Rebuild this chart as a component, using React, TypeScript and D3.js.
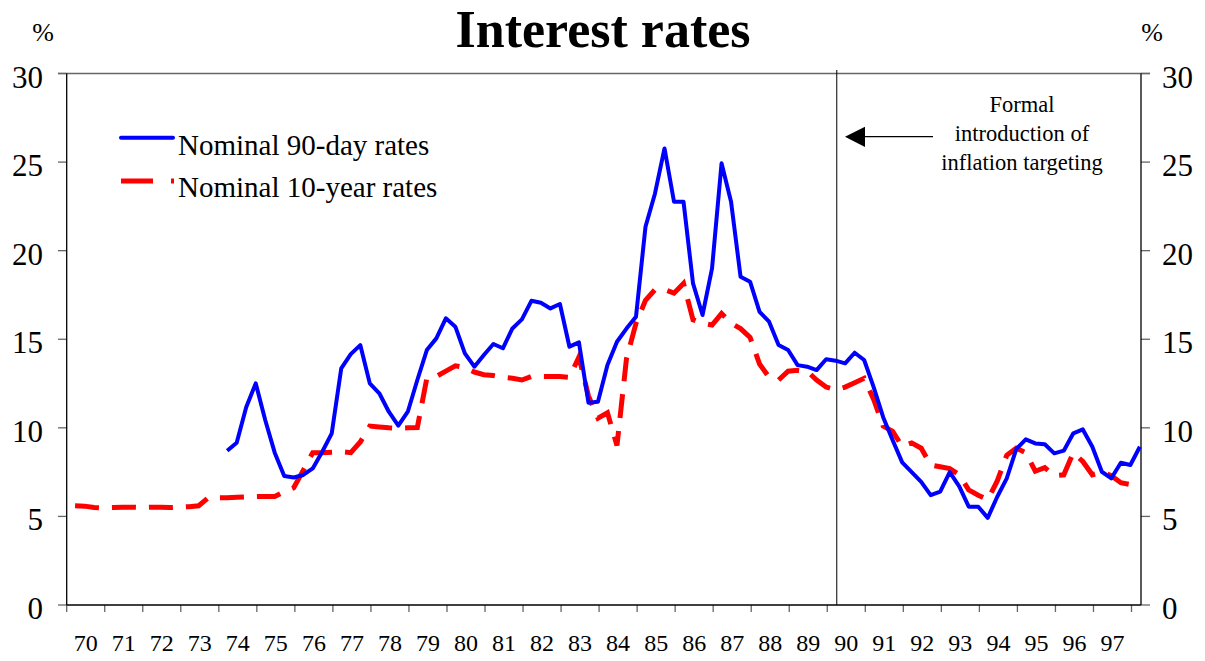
import React from 'react';
import * as d3 from 'd3';

// year labels on the category axis
const YEARS = ['70', '71', '72', '73', '74', '75', '76', '77', '78', '79', '80', '81', '82', '83',
  '84', '85', '86', '87', '88', '89', '90', '91', '92', '93', '94', '95', '96', '97'];

const Y_TICKS = [0, 5, 10, 15, 20, 25, 30];

// quarterly, 1970 Q1 .. 1998 Q1
const TEN_YEAR = [
  5.6, 5.58, 5.5, 5.48, 5.5, 5.52, 5.52, 5.5, 5.52, 5.52, 5.5, 5.52, 5.55, 5.6,
  6.05, 6.05, 6.06, 6.08, 6.1, 6.12, 6.13, 6.12, 6.4, 6.62, 7.6, 8.6, 8.6, 8.62,
  8.65, 8.6, 9.2, 10.1, 10.05, 10.0, 9.97, 10.0, 10.02, 12.8, 12.9, 13.2, 13.5, 13.4,
  13.15, 13.0, 12.95, 12.85, 12.8, 12.7, 12.9, 12.9, 12.9, 12.9, 12.85, 14.0, 11.8, 10.55,
  10.85, 9.0, 13.9, 15.9, 17.2, 17.8, 17.8, 17.6, 18.15, 16.1, 15.9, 15.8, 16.45, 15.9,
  15.6, 15.1, 13.6, 12.85, 12.7, 13.2, 13.25, 13.2, 12.7, 12.3, 12.15, 12.3, 12.55, 12.8,
  11.6, 10.1, 9.8, 8.95, 9.15, 8.85, 7.9, 7.8, 7.7, 7.35, 6.5, 6.2, 5.95, 7.0,
  8.45, 8.85, 8.6, 7.55, 7.75, 7.3, 7.35, 8.6, 8.1, 7.35, 7.5, 7.3, 6.9, 6.8, 6.75,
];

// quarterly, 1974 Q1 .. 1998 Q1
const NINETY_DAY_START = 16;
const NINETY_DAY = [
  8.71, 9.16, 11.16, 12.51, 10.44, 8.6, 7.28, 7.2, 7.34, 7.71, 8.65, 9.69, 13.36, 14.16,
  14.67, 12.51, 11.95, 10.91, 10.12, 10.91, 12.7, 14.39, 15.05, 16.18, 15.71, 14.2, 13.45, 14.11,
  14.73, 14.49, 15.61, 16.12, 17.17, 17.06, 16.74, 16.99, 14.58, 14.82, 11.42, 11.47, 13.54, 14.86,
  15.6, 16.27, 21.35, 23.23, 25.77, 22.76, 22.76, 18.15, 16.37, 19.0, 24.93, 22.76, 18.53, 18.25,
  16.55, 15.99, 14.67, 14.39, 13.54, 13.45, 13.26, 13.87, 13.79, 13.64, 14.24, 13.83, 12.3, 10.6,
  9.3, 8.05, 7.5, 6.95, 6.2, 6.4, 7.5, 6.7, 5.55, 5.55, 4.92, 6.11, 7.15, 8.8,
  9.35, 9.12, 9.07, 8.56, 8.71, 9.69, 9.91, 8.93, 7.52, 7.15, 8.03, 7.9, 8.93,
];

const TARGETING_START = 1990.25;
const NOTE = ['Formal', 'introduction of', 'inflation targeting'];

const FONT = '"Liberation Serif", "Times New Roman", serif';

export default function App() {
  const W = 1205;
  const H = 661;
  const left = 66.7;
  const right = 1141;
  const top = 73.5;
  const bottom = 605;

  const x = d3.scaleLinear().domain([1970, 1998.25]).range([left, right]);
  const y = d3.scaleLinear().domain([0, 30]).range([bottom, top]);
  const qx = (i: number) => x(1970.22 + i * 0.25);

  const tenLine = d3.line<number>()
    .x((_, i) => qx(i))
    .y(d => y(d))(TEN_YEAR) || '';
  const ninetyLine = d3.line<number>()
    .x((_, i) => qx(i + NINETY_DAY_START))
    .y(d => y(d))(NINETY_DAY) || '';

  const yearTicks = d3.range(YEARS.length + 1).map(i => 1970 + i);
  const vx = x(TARGETING_START);

  return (
    <svg width={W} height={H} style={{ position: 'absolute', left: 0, top: 0, background: '#fff' }}
      fontFamily={FONT}>
      <text x={603} y={47} textAnchor="middle" fontSize={52} fontWeight="bold">Interest rates</text>
      <text x={43} y={41} textAnchor="middle" fontSize={26}>%</text>
      <text x={1152} y={41} textAnchor="middle" fontSize={26}>%</text>

      {/* top border */}
      <line x1={58} x2={1150} y1={top} y2={top} stroke="#666" strokeWidth={1.3} />

      {/* y ticks and labels both sides */}
      {Y_TICKS.map(t => (
        <g key={t}>
          <line x1={58} x2={left} y1={y(t)} y2={y(t)} stroke="#666" strokeWidth={1.3} />
          <line x1={right} x2={1150} y1={y(t)} y2={y(t)} stroke="#666" strokeWidth={1.3} />
          <text x={43} y={y(t) + 14} textAnchor="end" fontSize={31}>{t}</text>
          <text x={1162} y={y(t) + 14} textAnchor="start" fontSize={31}>{t}</text>
        </g>
      ))}

      {/* x ticks and labels */}
      {yearTicks.map(t => (
        <line key={t} x1={x(t)} x2={x(t)} y1={bottom} y2={bottom + 7} stroke="#666" strokeWidth={1.3} />
      ))}
      {YEARS.map((lab, i) => (
        <text key={lab} x={x(1970 + i + 0.5)} y={651} textAnchor="middle" fontSize={24}>{lab}</text>
      ))}

      <line x1={left} x2={left} y1={top} y2={bottom} stroke="#000" strokeWidth={1.3} />
      <line x1={right} x2={right} y1={top} y2={bottom} stroke="#000" strokeWidth={1.3} />
      <line x1={left} x2={right} y1={bottom} y2={bottom} stroke="#000" strokeWidth={1.5} />

      {/* inflation targeting marker */}
      <line x1={vx} x2={vx} y1={70} y2={bottom} stroke="#000" strokeWidth={1} />
      <line x1={865} x2={933} y1={136.7} y2={136.7} stroke="#000" strokeWidth={1.3} />
      <path d="M845,136.7 L865,126.7 L865,147 Z" fill="#000" />
      {NOTE.map((s, i) => (
        <text key={s} x={1022} y={111.5 + i * 29} textAnchor="middle" fontSize={22.5}>{s}</text>
      ))}

      <path d={tenLine} fill="none" stroke="#ff0000" strokeWidth={5} strokeDasharray="24,13" />
      <path d={ninetyLine} fill="none" stroke="#0000ff" strokeWidth={4} strokeLinejoin="round" />

      {/* legend */}
      <line x1={121} x2={173} y1={137.7} y2={137.7} stroke="#0000ff" strokeWidth={4} strokeLinecap="round" />
      <text x={178} y={155} fontSize={29}>Nominal 90-day rates</text>
      <line x1={121} x2={174} y1={181} y2={181} stroke="#ff0000" strokeWidth={5} strokeDasharray="32,18" />
      <text x={178} y={197} fontSize={29}>Nominal 10-year rates</text>
    </svg>
  );
}
